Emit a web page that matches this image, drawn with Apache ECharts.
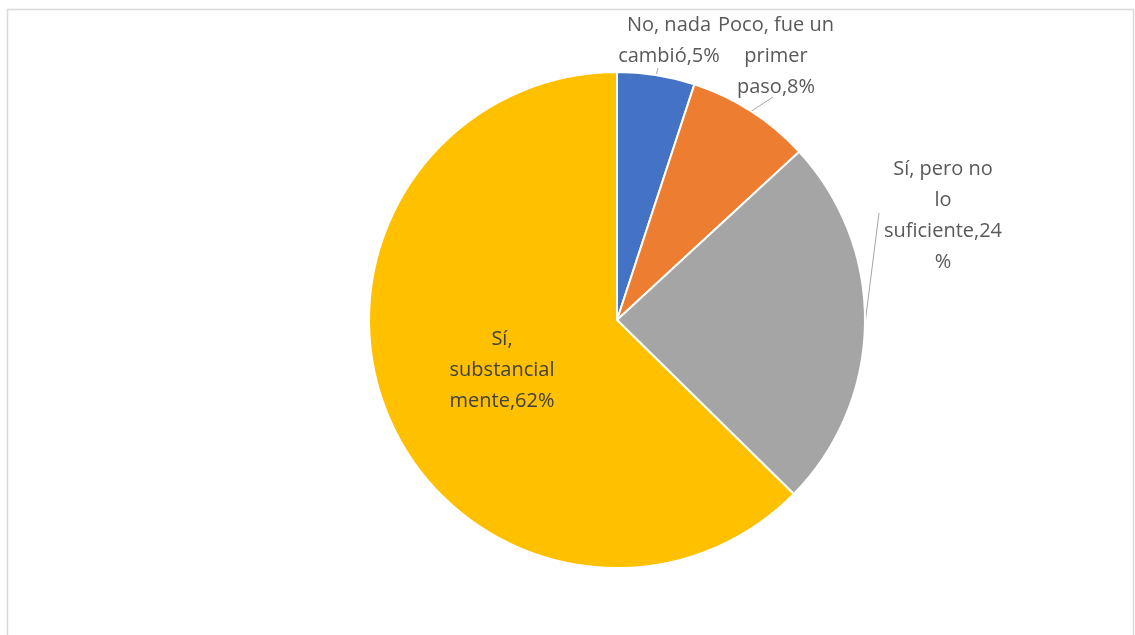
<!DOCTYPE html>
<html>
<head>
<meta charset="utf-8">
<script src="https://cdn.jsdelivr.net/npm/echarts@6/dist/echarts.min.js"></script>
<style>
  html, body { margin: 0; padding: 0; background: #ffffff; }
  #chart { width: 1135px; height: 635px; }
</style>
</head>
<body>
<div id="chart"></div>
<script>
// Categories and shares (percent) of the answers
const categories = ['No, nada cambió', 'Poco, fue un primer paso', 'Sí, pero no lo suficiente', 'Sí, substancialmente'];
const values = [5, 8, 24, 62];
// Label text as laid out on the chart (line breaks only)
const labelLines = [
  ['No, nada', 'cambió,5%'],
  ['Poco, fue un', 'primer', 'paso,8%'],
  ['Sí, pero no', 'lo', 'suficiente,24', '%'],
  ['Sí,', 'substancial', 'mente,62%']
];
const colors = ['#4472C4', '#ED7D31', '#A5A5A5', '#FFC000'];

// Pie geometry
const CX = 617, CY = 320, R = 248;
// Label block centres and leader line end points
const labelPos = [[669, 41], [776, 56], [943, 216], [502, 370]];
const lineEnd = [[658, 68], [773, 97], [879, 213], null];

const total = values.reduce((a, b) => a + b, 0);
function edgePoint(i) {
  let before = 0;
  for (let k = 0; k < i; k++) before += values[k];
  const mid = (before + values[i] / 2) / total * 2 * Math.PI;
  return [CX + R * Math.sin(mid), CY - R * Math.cos(mid)];
}

const chart = echarts.init(document.getElementById('chart'), null, { renderer: 'canvas' });
chart.setOption({
  backgroundColor: '#ffffff',
  animation: false,
  graphic: [{
    type: 'rect',
    shape: { x: 7.5, y: 9.5, width: 1126, height: 640 },
    style: { fill: 'none', stroke: '#D9D9D9', lineWidth: 1.5 },
    silent: true
  }],
  series: [{
    type: 'pie',
    center: [CX, CY],
    radius: [0, R],
    startAngle: 90,
    clockwise: true,
    itemStyle: { borderColor: '#ffffff', borderWidth: 2 },
    label: {
      show: true,
      position: 'outside',
      fontFamily: 'Open Sans',
      fontSize: 20,
      lineHeight: 31,
      color: '#595959',
      align: 'center',
      formatter: p => labelLines[p.dataIndex].join('\n')
    },
    labelLine: {
      show: true,
      length: 5,
      length2: 5,
      lineStyle: { color: '#A6A6A6', width: 1 }
    },
    labelLayout: function (params) {
      const i = params.dataIndex;
      const out = {
        x: labelPos[i][0],
        y: labelPos[i][1],
        align: 'center',
        verticalAlign: 'middle'
      };
      if (lineEnd[i]) {
        out.labelLinePoints = [edgePoint(i), lineEnd[i], lineEnd[i]];
      }
      return out;
    },
    data: categories.map((name, i) => ({
      name: name,
      value: values[i],
      itemStyle: { color: colors[i] },
      label: i === 3 ? { color: '#404040' } : undefined,
      labelLine: i === 3 ? { show: false } : undefined
    }))
  }]
});
</script>
</body>
</html>
